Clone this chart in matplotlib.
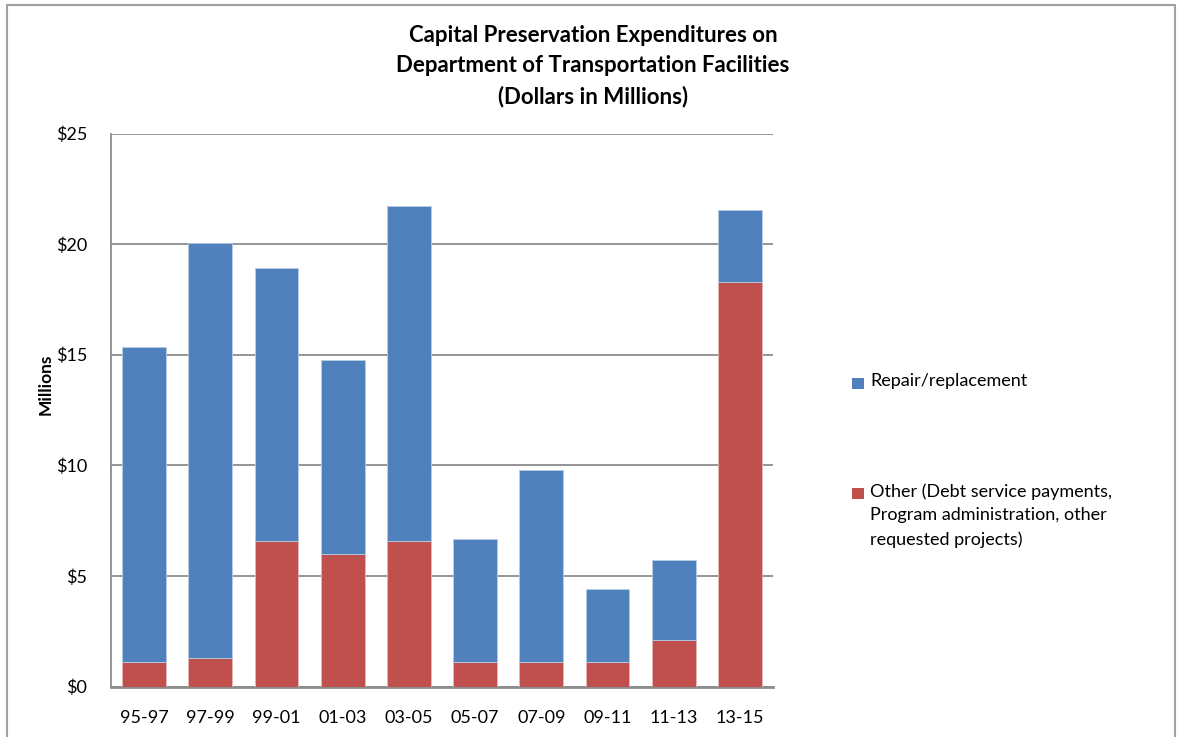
import numpy as np
import matplotlib
matplotlib.use("Agg")
import matplotlib.pyplot as plt
from matplotlib.patches import Rectangle

# Biennium labels and values (dollars in millions)
periods = ["95-97", "97-99", "99-01", "01-03", "03-05",
           "05-07", "07-09", "09-11", "11-13", "13-15"]
other = [1.11, 1.31, 6.56, 6.01, 6.56, 1.11, 1.11, 1.11, 2.08, 18.29]
repair = [14.22, 18.72, 12.38, 8.77, 15.15, 5.58, 8.70, 3.32, 3.64, 3.27]

series_labels = ["Repair/replacement",
                 "Other (Debt service payments,\nProgram administration, other\nrequested projects)"]
blue = "#4F81BD"
red = "#C0504D"
grid_gray = "#8C8C8C"

plt.rcParams['font.family'] = ['Lato', 'DejaVu Sans']

fig = plt.figure(figsize=(11.78, 7.37), dpi=100)
ax = fig.add_axes([111 / 1178, 1 - 686.5 / 737, 662 / 1178, 553 / 737])

x = np.arange(len(periods))
ax.bar(x, other, width=0.66, color=red, edgecolor="#E8B8B6", linewidth=0.6, zorder=3)
ax.bar(x, repair, bottom=other, width=0.66, color=blue, edgecolor="#B8CCE4", linewidth=0.6, zorder=3)

ax.set_xlim(-0.5, len(periods) - 0.5)
ax.set_ylim(0, 25)
ax.set_yticks(np.arange(0, 26, 5))
ax.set_yticklabels(["$%d" % v for v in range(0, 26, 5)])
ax.set_xticks(x)
ax.set_xticklabels(periods)
ax.tick_params(axis="both", length=0, labelsize=13, colors="black")
ax.tick_params(axis="y", pad=17)
ax.tick_params(axis="x", pad=17)

ax.yaxis.grid(True, color=grid_gray, linewidth=1.3, zorder=0)
for s in ["top", "right"]:
    ax.spines[s].set_visible(False)
ax.spines["left"].set_color(grid_gray)
ax.spines["left"].set_linewidth(1.3)
ax.spines["bottom"].set_color(grid_gray)
ax.spines["bottom"].set_linewidth(2)

ax.set_ylabel("Millions", fontsize=12.5, fontweight="bold")
ax.yaxis.set_label_coords(-0.086, 0.547)

fig.text(593 / 1178, 1 - 66 / 737,
         "Capital Preservation Expenditures on\nDepartment of Transportation Facilities\n(Dollars in Millions)",
         ha="center", va="center", fontsize=16, fontweight="bold", linespacing=1.52)

# legend drawn by hand so the swatch sits by the first text line
legend_y = [383, 493]
for lab, col, yy in zip(series_labels, [blue, red], legend_y):
    fig.patches.append(Rectangle((852 / 1178, 1 - (yy + 6) / 737), 12 / 1178, 11 / 737,
                                 transform=fig.transFigure, facecolor=col, edgecolor="none"))
    fig.text(870 / 1178, 1 - (yy - 10) / 737, lab, ha="left", va="top",
             fontsize=13, linespacing=1.6)

# outer chart border
fig.patches.append(Rectangle((7 / 1178, -0.05), 1168 / 1178, 1.05 - 5 / 737,
                             transform=fig.transFigure, facecolor="none",
                             edgecolor="#A0A0A0", linewidth=1.5))

fig.savefig("out.png", dpi=100)
